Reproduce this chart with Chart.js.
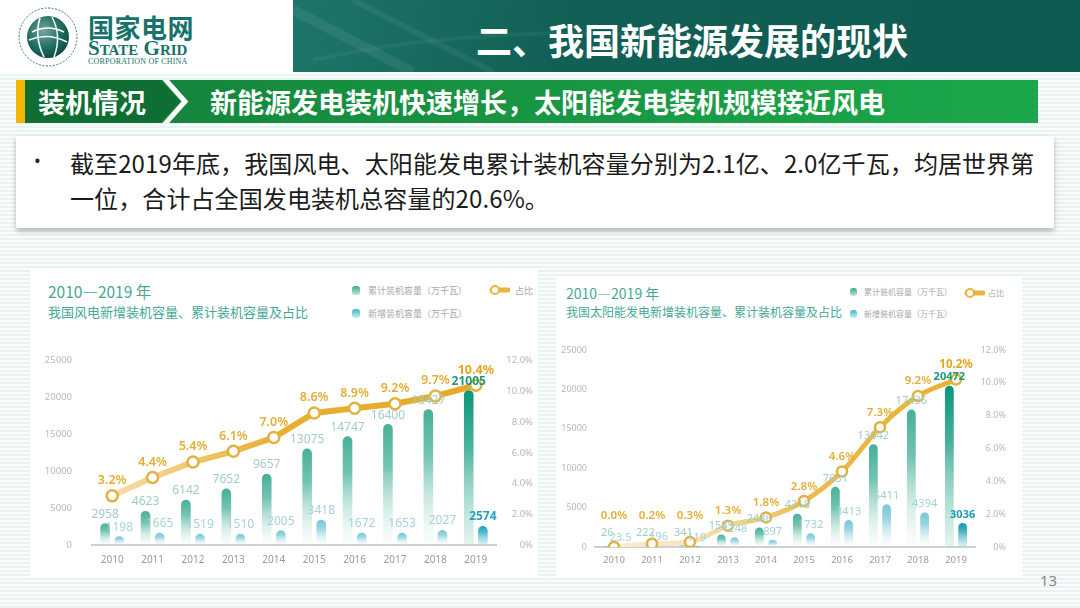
<!DOCTYPE html>
<html lang="zh">
<head>
<meta charset="utf-8">
<script src="https://cdn.jsdelivr.net/npm/chart.js@4.4.1/dist/chart.umd.min.js"></script>
<style>
*{box-sizing:border-box}
html,body{margin:0;padding:0}
body{width:1080px;height:608px;position:relative;overflow:hidden;
 font-family:"Noto Sans CJK SC","Noto Sans",sans-serif;
 background:repeating-linear-gradient(180deg,#fbfdfd 0px,#fbfdfd 2px,#eaf3f4 2px,#eaf3f4 4px);}
.abs{position:absolute}
#logoArea{left:0;top:0;width:293px;height:72px;background:#fff}
#titleBand{left:293px;top:0;width:787px;height:72px;background:linear-gradient(100deg,#1d7669 0%,#125f55 35%,#0d5a50 100%);overflow:hidden}
#titleText{left:476px;top:0;height:72px;line-height:78px;color:#fff;font-weight:bold;font-size:36px;white-space:nowrap}
#cnName{left:88px;top:8px;font-size:26px;font-weight:bold;color:#16726a;letter-spacing:0.5px;white-space:nowrap}
#enName{left:88px;top:36px;font-family:"Liberation Serif","DejaVu Serif",serif;font-weight:bold;font-size:21px;color:#16726a;font-variant:small-caps;white-space:nowrap;letter-spacing:0px}
#enSub{left:88px;top:57px;font-family:"Liberation Serif",serif;font-size:8px;color:#16726a;white-space:nowrap;letter-spacing:0.2px}
#yellow{left:16px;top:80px;width:9px;height:43px;background:#f3b700}
#greenBar{left:25px;top:80px;width:1013px;height:43px;background:linear-gradient(90deg,#117a3a 0%,#168c3f 25%,#1ca84a 100%)}
#secText{left:38px;top:80px;height:43px;line-height:43px;color:#fff;font-weight:bold;font-size:27px;white-space:nowrap}
#mainText{left:210px;top:80px;height:43px;line-height:43px;color:#fff;font-weight:bold;font-size:27px;white-space:nowrap}
#textBox{left:16px;top:136px;width:1038px;height:92px;background:#fff;box-shadow:0 3px 5px rgba(0,0,0,0.28)}
#bullet{left:34px;top:148px;font-family:"Noto Sans",sans-serif;font-size:18px;color:#222}
.txtLine{left:70px;font-size:24px;color:#1b1b1b;white-space:nowrap;letter-spacing:0.1px}
.panel{background:#fff}
.ctitle{color:#45a896;white-space:nowrap}
.leg{color:#a8a8a8;white-space:nowrap}
.mk{width:8px;height:9px;border-radius:3px}
#pageNo{left:1040px;top:570px;font-family:"Noto Sans",sans-serif;font-size:15px;color:#8a8a8a}
</style>
</head>
<body>
<div class="abs" id="logoArea"></div>
<svg class="abs" style="left:16px;top:6px" width="64" height="62" viewBox="0 0 64 62">
  <defs>
    <radialGradient id="gl" cx="40%" cy="35%" r="70%">
      <stop offset="0" stop-color="#6fa79e"/><stop offset="0.6" stop-color="#1f6c62"/><stop offset="1" stop-color="#0b4a42"/>
    </radialGradient>
  </defs>
  <circle cx="32" cy="31" r="29" fill="none" stroke="#2f7a70" stroke-width="1" stroke-dasharray="2 1.5"/>
  <circle cx="32" cy="31" r="21" fill="url(#gl)"/>
  <path d="M16 26 Q32 18 48 26" stroke="#fff" stroke-width="1.6" fill="none"/>
  <path d="M13 34 Q32 26 51 36" stroke="#fff" stroke-width="1.6" fill="none"/>
  <path d="M24 12 Q18 31 28 51" stroke="#fff" stroke-width="1.6" fill="none"/>
  <path d="M36 11 Q46 30 38 51" stroke="#fff" stroke-width="1.4" fill="none"/>
</svg>
<div class="abs" id="cnName">国家电网</div>
<div class="abs" id="enName">State Grid</div>
<div class="abs" id="enSub">CORPORATION OF CHINA</div>
<div class="abs" id="titleBand">
  <svg width="787" height="72" style="position:absolute;left:0;top:0">
    <path d="M0 10 L120 72" stroke="rgba(255,255,255,0.07)" stroke-width="10"/>
    <path d="M60 0 L200 72" stroke="rgba(255,255,255,0.06)" stroke-width="6"/>
    <path d="M20 60 Q200 20 420 40" stroke="rgba(255,255,255,0.05)" stroke-width="4" fill="none"/>
  </svg>
</div>
<div class="abs" id="titleText">二、我国新能源发展的现状</div>

<div class="abs" id="yellow"></div>
<div class="abs" id="greenBar"></div>
<svg class="abs" style="left:25px;top:80px" width="170" height="43">
  <polygon points="0,0 135,0 155,21.5 135,43 0,43" fill="#0e6e34"/>
  <polyline points="139,-2 160,21.5 139,45" stroke="#ffffff" stroke-width="5" fill="none"/>
</svg>
<div class="abs" id="secText">装机情况</div>
<div class="abs" id="mainText">新能源发电装机快速增长，太阳能发电装机规模接近风电</div>

<div class="abs" id="textBox"></div>
<div class="abs" id="bullet">•</div>
<div class="abs txtLine" style="top:145px">截至2019年底，我国风电、太阳能发电累计装机容量分别为2.1亿、2.0亿千瓦，均居世界第</div>
<div class="abs txtLine" style="top:180px">一位，合计占全国发电装机总容量的20.6%。</div>

<div class="abs panel" style="left:30px;top:270px;width:508px;height:308px"></div>
<div class="abs panel" style="left:556px;top:276px;width:466px;height:302px"></div>

<div class="abs ctitle" style="left:48px;top:280px;font-size:15.5px">2010—2019 年</div>
<div class="abs ctitle" style="left:48px;top:302px;font-size:13px">我国风电新增装机容量、累计装机容量及占比</div>
<div class="abs mk" style="left:352px;top:286px;background:linear-gradient(180deg,#3aa98f,#bfe6dc)"></div>
<div class="abs leg" style="left:368px;top:284px;font-size:9px">累计装机容量（万千瓦）</div>
<div class="abs mk" style="left:352px;top:309px;background:linear-gradient(180deg,#3fb5cc,#c9eef3)"></div>
<div class="abs leg" style="left:368px;top:307px;font-size:9px">新增装机容量（万千瓦）</div>
<svg class="abs" style="left:488px;top:284px" width="22" height="12"><line x1="4" y1="6" x2="20" y2="6" stroke="#e8b43c" stroke-width="5" stroke-linecap="round"/><circle cx="7" cy="6" r="4" fill="#fff" stroke="#e8b43c" stroke-width="2"/></svg>
<div class="abs leg" style="left:515px;top:284px;font-size:9px">占比</div>

<div class="abs ctitle" style="left:566px;top:283px;font-size:14px">2010—2019 年</div>
<div class="abs ctitle" style="left:566px;top:303px;font-size:12px">我国太阳能发电新增装机容量、累计装机容量及占比</div>
<div class="abs mk" style="left:850px;top:288px;width:7px;height:8px;background:linear-gradient(180deg,#3aa98f,#bfe6dc)"></div>
<div class="abs leg" style="left:864px;top:286px;font-size:8px">累计装机容量（万千瓦）</div>
<div class="abs mk" style="left:850px;top:310px;width:7px;height:8px;background:linear-gradient(180deg,#3fb5cc,#c9eef3)"></div>
<div class="abs leg" style="left:864px;top:308px;font-size:8px">新增装机容量（万千瓦）</div>
<svg class="abs" style="left:963px;top:287px" width="22" height="12"><line x1="4" y1="6" x2="20" y2="6" stroke="#e8b43c" stroke-width="5" stroke-linecap="round"/><circle cx="7" cy="6" r="4" fill="#fff" stroke="#e8b43c" stroke-width="2"/></svg>
<div class="abs leg" style="left:988px;top:287px;font-size:8px">占比</div>

<div class="abs" style="left:30px;top:335px;width:503px;height:240px"><canvas id="windChart"></canvas></div>
<div class="abs" style="left:555px;top:330px;width:451px;height:245px"><canvas id="solarChart"></canvas></div>

<div class="abs" id="pageNo">13</div>

<script>
// ---------- data ----------
const years = ['2010','2011','2012','2013','2014','2015','2016','2017','2018','2019'];
const windCumulative = [2958, 4623, 6142, 7652, 9657, 13075, 14747, 16400, 18427, 21005];
const windNew        = [1198, 1665, 1519, 1510, 2005, 3418, 1672, 1653, 2027, 2574];
const windShare      = [3.2, 4.4, 5.4, 6.1, 7.0, 8.6, 8.9, 9.2, 9.7, 10.4];
const solarCumulative = [26, 222, 341, 1589, 2486, 4218, 7631, 13042, 17436, 20472];
const solarNew        = [23.5, 196, 119, 1248, 897, 1732, 3413, 5411, 4394, 3036];
const solarShare      = [0.0, 0.2, 0.3, 1.3, 1.8, 2.8, 4.6, 7.3, 9.2, 10.2];
const capacityTicks = [0, 5000, 10000, 15000, 20000, 25000];
const shareTicks    = [0, 2, 4, 6, 8, 10, 12];

// ---------- helpers ----------
function barGradient(topColor, bottomColor, lastTop, lastBottom) {
  return function (ctx) {
    const c = ctx.chart;
    const last = ctx.dataIndex === ctx.dataset.data.length - 1;
    const t = last ? lastTop : topColor;
    const b = last ? lastBottom : bottomColor;
    if (!c.chartArea || ctx.type !== 'data') return t;
    const yTop = c.scales.y.getPixelForValue(ctx.raw);
    const yBot = c.chartArea.bottom;
    if (!isFinite(yTop) || yBot - yTop < 1) return t;
    const g = c.ctx.createLinearGradient(0, yTop, 0, yBot);
    g.addColorStop(0, t);
    g.addColorStop(0.35, t.replace(/[\d.]+\)$/, m => (parseFloat(m) * 0.75) + ')'));
    g.addColorStop(1, b);
    return g;
  };
}
function lineGradient(stops) {
  return function (ctx) {
    const c = ctx.chart;
    if (!c.chartArea) return stops[stops.length - 1][1];
    const g = c.ctx.createLinearGradient(c.chartArea.left, 0, c.chartArea.right, 0);
    stops.forEach(s => g.addColorStop(s[0], s[1]));
    return g;
  };
}

const valueLabels = {
  id: 'valueLabels',
  afterDatasetsDraw(chart) {
    const ctx = chart.ctx;
    const area = chart.chartArea;
    const order = [1, 2, 0];
    order.forEach(i => {
      const ds = chart.data.datasets[i];
      const lc = ds.labelCfg;
      if (!lc) return;
      const meta = chart.getDatasetMeta(i);
      meta.data.forEach((el, j) => {
        const v = ds.data[j];
        const last = j === ds.data.length - 1;
        ctx.save();
        ctx.font = (last && lc.lastBold ? 'bold ' : lc.weight + ' ') + lc.size + 'px "Noto Sans", sans-serif';
        ctx.fillStyle = last ? lc.lastColor : lc.color;
        ctx.textAlign = 'center';
        ctx.textBaseline = 'bottom';
        let y = el.y - lc.offset;
        if (lc.maxY) y = Math.min(y, area.bottom - lc.maxY);
        ctx.fillText(lc.format(v), el.x, y);
        ctx.restore();
      });
    });
  }
};

function buildChart(canvasId, cumulative, added, share, opt) {
  return new Chart(document.getElementById(canvasId), {
    type: 'bar',
    data: {
      labels: years,
      datasets: [
        {
          type: 'line', label: '占比', data: share, yAxisID: 'y1', order: 0,
          borderColor: lineGradient(opt.lineStops), borderWidth: opt.lineWidth,
          cubicInterpolationMode: opt.smooth ? 'monotone' : 'default', tension: 0,
          pointRadius: opt.pointRadius, pointBorderWidth: 2.5,
          pointBackgroundColor: '#ffffff', pointBorderColor: '#e3b13d',
          labelCfg: { format: v => v.toFixed(1) + '%', color: '#e6ad35', lastColor: '#e3a623', size: opt.pctSize, weight: '600', lastBold: true, offset: 9, maxY: opt.pctMaxY }
        },
        {
          label: '累计装机容量（万千瓦）', data: cumulative, yAxisID: 'y', order: 1,
          backgroundColor: barGradient('rgba(70,176,152,1)', 'rgba(225,243,239,0.15)', 'rgba(10,150,122,1)', 'rgba(170,225,212,0.35)'),
          borderRadius: { topLeft: 5, topRight: 5 }, borderSkipped: false,
          categoryPercentage: opt.catPct, barPercentage: opt.barPct,
          labelCfg: { format: v => String(v), color: '#a2cdc6', lastColor: '#1f977f', size: opt.valSize, weight: '400', lastBold: true, offset: 3, maxY: opt.cumMaxY }
        },
        {
          label: '新增装机容量（万千瓦）', data: added, yAxisID: 'y', order: 2,
          backgroundColor: barGradient('rgba(120,200,216,1)', 'rgba(228,245,248,0.15)', opt.newLastTop, 'rgba(170,222,232,0.4)'),
          borderRadius: { topLeft: 5, topRight: 5 }, borderSkipped: false,
          categoryPercentage: opt.catPct, barPercentage: opt.barPct,
          labelCfg: { format: v => String(v), color: '#a6d2da', lastColor: opt.newLastLabel, size: opt.valSize, weight: '400', lastBold: true, offset: 3, maxY: opt.newMaxY }
        }
      ]
    },
    options: {
      responsive: true, maintainAspectRatio: false, animation: false,
      layout: { padding: { top: opt.padTop, left: 0, right: 0, bottom: 0 } },
      plugins: { legend: { display: false }, tooltip: { enabled: false } },
      scales: {
        x: {
          grid: { display: false, drawTicks: false },
          border: { display: true, color: '#cfcfcf', width: 2 },
          ticks: { color: '#9a9a9a', font: { size: opt.xSize, family: '"Noto Sans", sans-serif' }, padding: opt.xPad },
          afterFit: s => { s.height = opt.xHeight; }
        },
        y: {
          position: 'left', min: 0, max: 25000,
          grid: { display: false, drawTicks: false }, border: { display: false },
          afterBuildTicks: s => { s.ticks = capacityTicks.map(v => ({ value: v })); },
          ticks: { color: '#b8b8b8', font: { size: opt.ySize, family: '"Noto Sans", sans-serif' }, padding: opt.yPad,
                   callback: v => String(v) },
          afterFit: s => { s.width = opt.yWidth; }
        },
        y1: {
          position: 'right', min: 0, max: 12,
          grid: { display: false, drawTicks: false }, border: { display: false },
          afterBuildTicks: s => { s.ticks = shareTicks.map(v => ({ value: v })); },
          ticks: { color: '#b8b8b8', font: { size: opt.ySize, family: '"Noto Sans", sans-serif' }, crossAlign: 'far',
                   callback: v => v === 0 ? '0%' : v.toFixed(1) + '%' },
          afterFit: s => { s.width = opt.y1Width; }
        }
      }
    },
    plugins: [valueLabels]
  });
}

buildChart('windChart', windCumulative, windNew, windShare, {
  lineStops: [[0, '#f6e4bd'], [0.15, '#f2d28c'], [0.3, '#edc15f'], [0.45, '#e8b033'], [1, '#e6a822']],
  lineWidth: 6, smooth: false, pointRadius: 5.5, pctSize: 12.5, pctMaxY: 0, valSize: 12,
  cumMaxY: 0, newMaxY: 0,
  catPct: 0.7, barPct: 0.68, newLastTop: 'rgba(30,166,196,1)', newLastLabel: '#2a9fc2',
  padTop: 20, xSize: 10, xPad: 9, xHeight: 30, ySize: 9.5, yPad: 20, yWidth: 62, y1Width: 37
});

buildChart('solarChart', solarCumulative, solarNew, solarShare, {
  lineStops: [[0, '#f7eed8'], [0.25, '#f5e5bd'], [0.4, '#f0d084'], [0.55, '#ebbd4e'], [1, '#e7b02f']],
  lineWidth: 5, smooth: true, pointRadius: 5, pctSize: 11.5, pctMaxY: 26, valSize: 11,
  cumMaxY: 9, newMaxY: 2,
  catPct: 0.7, barPct: 0.66, newLastTop: 'rgba(16,152,170,1)', newLastLabel: '#1b9bb0',
  padTop: 20, xSize: 9.5, xPad: 8, xHeight: 28, ySize: 9, yPad: 8, yWidth: 40, y1Width: 31
});
</script>
</body>
</html>
